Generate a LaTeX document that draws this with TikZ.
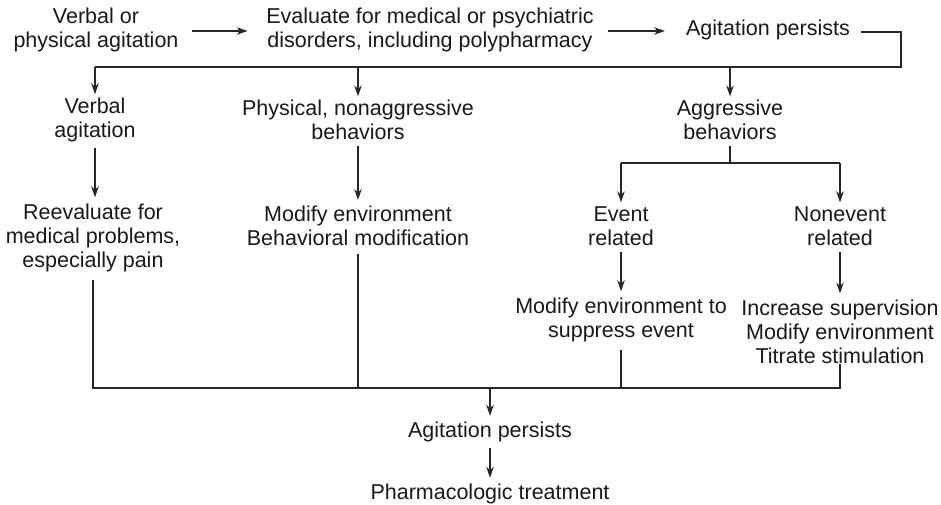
\documentclass[tikz,border=0pt]{standalone}
\usepackage{fontspec}
\setmainfont{Liberation Sans}
\usetikzlibrary{arrows.meta}
\begin{document}
\begin{tikzpicture}[x=1pt,y=-1pt,
  txt/.style={align=center,inner sep=0pt,font=\fontsize{21.5}{24}\selectfont,text=black!90},
  ln/.style={line width=1.1pt,draw=black!85},
  arr/.style={ln,-{Stealth[length=11pt,width=7.5pt]}}]
\useasboundingbox (0,0) rectangle (941,505);
\node[txt] (verbal) at (96,29.5) {Verbal or\\physical agitation};
\node[txt] (eval) at (430,29.5) {Evaluate for medical or psychiatric\\disorders, including polypharmacy};
\node[txt] (persist1) at (768,30) {Agitation persists};
\coordinate (corner) at (901,32);
\coordinate (bus) at (901,67);
\node[txt] (verb2) at (95,119.5) {Verbal\\agitation};
\node[txt] (phys) at (358,119.5) {Physical, nonaggressive\\behaviors};
\node[txt] (aggr) at (730,119.5) {Aggressive\\behaviors};
\node[txt] (reev) at (93,237.5) {Reevaluate for\\medical problems,\\especially pain};
\node[txt] (modify) at (358,226) {Modify environment\\Behavioral modification};
\node[txt] (event) at (621,226) {Event\\related};
\node[txt] (nonevent) at (840,226) {Nonevent\\related};
\node[txt] (supp) at (621,319.5) {Modify environment to\\suppress event};
\node[txt] (incr) at (840,331.5) {Increase supervision\\Modify environment\\Titrate stimulation};
\node[txt] (persist2) at (490,432) {Agitation persists};
\node[txt] (pharm) at (490,494) {Pharmacologic treatment};
\coordinate (split) at (730,163);
\coordinate (bus2) at (490,388);
% top row
\draw[arr,shorten <=13pt,shorten >=18.5pt] (verbal.east |- 0,31) -- (eval.west |- 0,31);
\draw[arr,shorten <=14pt,shorten >=21pt] (eval.east |- 0,31) -- (persist1.west |- 0,31);
\draw[ln,shorten <=11pt] (persist1.east |- corner) -- (corner) -- (bus) -- (verb2 |- bus);
\draw[arr,shorten >=3pt] (verb2 |- bus) -- (verb2.north);
\draw[arr,shorten >=3pt] (phys |- bus) -- (phys.north);
\draw[arr,shorten >=3pt] (aggr |- bus) -- (aggr.north);
% second level
\draw[arr,shorten <=6pt,shorten >=6pt] (verb2.south) -- (verb2.south |- reev.north);
\draw[arr,shorten <=6pt,shorten >=6pt] (phys.south) -- (modify.north);
\draw[ln,shorten <=6pt] (aggr.south) -- (split);
\draw[ln] (event |- split) -- (nonevent |- split);
\draw[arr,shorten >=4pt] (event |- split) -- (event.north);
\draw[arr,shorten >=4pt] (nonevent |- split) -- (nonevent.north);
\draw[arr,shorten <=6pt,shorten >=6pt] (event.south) -- (supp.north);
\draw[arr,shorten <=6pt,shorten >=6pt] (nonevent.south) -- (incr.north);
% bottom bus
\draw[ln,shorten <=8pt] (reev.south) -- (reev.south |- bus2) -- (incr.south |- bus2) -- (incr.south);
\draw[ln,shorten <=8pt] (modify.south) -- (modify |- bus2);
\draw[ln,shorten <=8pt] (supp.south) -- (supp |- bus2);
\draw[arr,shorten >=6pt] (bus2) -- (persist2.north);
\draw[arr,shorten <=6pt,shorten >=6pt] (persist2.south) -- (pharm.north);
\end{tikzpicture}
\end{document}
